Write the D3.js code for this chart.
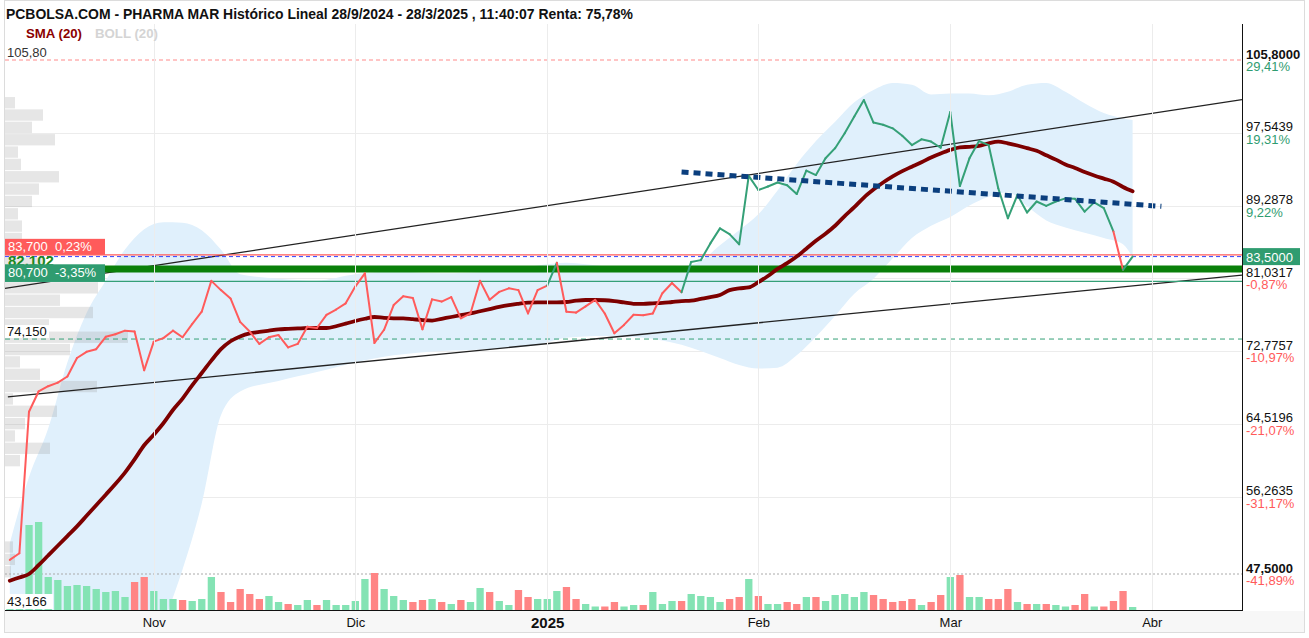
<!DOCTYPE html>
<html>
<head>
<meta charset="utf-8">
<script src="https://cdn.jsdelivr.net/npm/d3@7"></script>
<style>
body { margin: 0; background: #fff; }
svg { font-family: "Liberation Sans", Arial, sans-serif; }
</style>
</head>
<body>
<svg width="1309" height="638"></svg>
<script>
// daily closes, one per trading day from 11/10/2024 to 28/3/2025
var closes = [49.1, 49.85, 65.9, 68.2, 68.8, 69.2, 69.9, 72.0, 72.7, 73.0,
  74.4, 74.7, 75.1, 75.0, 70.6, 73.85, 74.25, 75.1, 74.35, 75.85,
  77.25, 80.75, 79.7, 78.75, 76.1, 75.0, 73.6, 74.35, 74.6, 73.2,
  73.6, 75.55, 75.4, 76.9, 77.5, 78.2, 80.1, 81.6, 73.7, 75.2,
  78.0, 79.0, 78.8, 75.25, 78.65, 78.4, 78.9, 76.5, 77.05, 80.75,
  78.6, 79.5, 79.9, 79.7, 77.05, 79.7, 80.2, 82.8, 77.25, 77.15,
  77.85, 78.6, 77.05, 74.8, 75.75, 76.9, 76.85, 77.05, 79.35, 80.5,
  79.45, 82.9, 83.1, 85.0, 86.7, 86.05, 84.9, 92.65, 91.05, 91.45,
  91.9, 91.6, 90.6, 93.25, 92.75, 94.65, 95.8, 97.5, 99.4, 101.25,
  98.7, 98.45, 98.05, 97.2, 96.15, 96.8, 96.55, 95.85, 99.9, 91.5,
  94.65, 96.6, 96.15, 91.25, 87.85, 90.5, 88.5, 89.75, 89.25, 89.75,
  90.1, 90.05, 88.6, 89.65, 89.0, 86.35, 82.0, 83.5];

// volume (thousands of shares)
var volumes = [60, 90, 850, 880, 330, 300, 240, 250, 240, 210,
  180, 190, 130, 280, 330, 190, 110, 110, 100, 90,
  110, 330, 180, 80, 210, 160, 110, 140, 80, 60,
  50, 100, 50, 100, 50, 50, 90, 310, 370, 210,
  140, 100, 80, 100, 110, 80, 60, 100, 80, 220,
  180, 90, 50, 200, 130, 110, 110, 190, 230, 110,
  60, 35, 35, 80, 35, 50, 50, 180, 60, 90,
  90, 160, 140, 130, 80, 110, 130, 310, 140, 60,
  60, 80, 60, 130, 130, 90, 150, 160, 130, 180,
  150, 110, 80, 90, 110, 50, 80, 150, 330, 350,
  130, 130, 110, 110, 210, 80, 60, 60, 60, 50,
  35, 50, 160, 35, 35, 90, 190, 30];

// SMA (20) as plotted
var sma20 = [46.74, 47.1, 47.5, 48.5, 49.6, 50.7, 51.8, 52.9, 54.1, 55.3,
  56.5, 57.7, 59.0, 60.5, 62.1, 63.3, 64.6, 66.1, 67.4, 68.9,
  70.3, 71.7, 73.0, 73.9, 74.45, 74.8, 74.95, 75.1, 75.25, 75.3,
  75.35, 75.4, 75.4, 75.4, 75.6, 75.9, 76.2, 76.45, 76.65, 76.55,
  76.5, 76.5, 76.4, 76.3, 76.25, 76.45, 76.65, 76.85, 77.05, 77.3,
  77.55, 77.8, 78.0, 78.15, 78.28, 78.3, 78.3, 78.3, 78.35, 78.5,
  78.58, 78.58, 78.55, 78.45, 78.3, 78.15, 78.15, 78.2, 78.25, 78.35,
  78.45, 78.5, 78.7, 78.9, 79.15, 79.7, 79.9, 80.0, 80.6, 81.3,
  82.1, 82.75, 83.5, 84.4, 85.3, 86.1, 87.0, 88.1, 89.1, 90.2,
  91.1, 91.9, 92.6, 93.2, 93.7, 94.2, 94.75, 95.2, 95.6, 95.9,
  95.95, 96.05, 96.35, 96.54, 96.35, 96.1, 95.8, 95.5, 95.0, 94.5,
  93.95, 93.55, 93.1, 92.7, 92.35, 92.0, 91.4, 90.9];

// Bollinger (20) envelope, read at these trading-day indexes
var bandDays = [0, 2, 4, 6, 8, 10, 12, 14, 16, 18, 20, 22, 24, 28, 32, 36, 40, 45, 50, 55,
  58, 62, 66, 70, 72, 74, 76, 78, 80, 82, 84, 86, 88, 90, 92, 94, 96, 98, 100, 102,
  104, 106, 108, 110, 112, 114, 116, 117];
var bandUpper = [51.0, 58.5, 64.0, 71.5, 77.1, 80.8, 84.3, 86.6, 87.4, 87.35, 86.5, 84.3, 81.5, 81.0, 80.8, 81.5, 81.8, 81.6, 81.8, 82.5,
  82.8, 82.4, 82.2, 82.4, 83.0, 84.8, 86.5, 88.3, 91.0, 94.0, 96.6, 98.8, 101.0, 102.4, 103.2, 103.0, 101.9, 102.0, 102.0, 101.8,
  102.2, 103.0, 103.2, 102.2, 100.9, 99.8, 99.2, 99.0];
var bandLower = [25, 26, 27, 28.5, 30, 32, 34.5, 37.5, 42.0, 48.0, 55.5, 65.5, 68.2, 69.4, 70.4, 71.5, 72.3, 72.8, 73.0, 73.5,
  74.3, 74.5, 74.3, 73.5, 72.8, 72.0, 71.2, 70.8, 70.9, 72.3, 74.4, 76.8, 79.3, 81.0, 83.3, 85.6, 87.0, 88.0, 89.3, 90.3,
  90.8, 89.2, 87.6, 86.8, 86.2, 85.6, 84.9, 83.4];

// volume-by-price profile (left), bins going down from profileTop
var profileTop = 101.6, profileStep = 1.4;
var profileVolumes = [10, 38, 27, 50, 13, 16, 54, 34, 27, 13, 17, 17, 22, 40, 60, 93, 55, 88, 44, 123,
  65, 15, 35, 92, 8, 52, 20, 10, 45, 15, 0, 0, 0, 0, 0, 0, 8, 10, 6];

// right axis
var axisValues = [105.8, 97.5439, 89.2878, 81.0317, 72.7757, 64.5196, 56.2635, 47.5];
var axisLabels = ["105,8000", "97,5439", "89,2878", "81,0317", "72,7757", "64,5196", "56,2635", "47,5000"];
var axisPercents = ["29,41%", "19,31%", "9,22%", "-0,87%", "-10,97%", "-21,07%", "-31,17%", "-41,89%"];

// reference levels
var maxLevel = 105.80, minLevel = 47.5, lowLabel = 43.166;
var redLevel = 83.700, redPct = "0,23%";
var lastPrice = 83.5;
var thickLevel = 82.102;
var greenLevel = 80.700, greenPct = "-3,35%";
var dashLevel = 74.150;

// trend lines (day index, price)
var upperTrendDays = [-0.5, 128.4], upperTrendValues = [79.9, 101.3];
var lowerTrendDays = [-0.2, 128.4], lowerTrendValues = [67.6, 81.4];
var dotTrendDays = [70, 120], dotTrendValues = [93.1, 89.2];

var holidays = ["2024-12-25", "2024-12-26", "2025-01-01"];
var monthNames = ["Ene", "Feb", "Mar", "Abr", "May", "Jun", "Jul", "Ago", "Sep", "Oct", "Nov", "Dic"];

var fmtDay = d3.utcFormat("%Y-%m-%d");
var days = d3.utcDay.range(new Date(Date.UTC(2024, 9, 11)), new Date(Date.UTC(2025, 3, 12)))
  .filter(function(d) { return d.getUTCDay() % 6 !== 0 && holidays.indexOf(fmtDay(d)) < 0; });
var monthStarts = d3.range(1, days.length).filter(function(i) {
  return days[i].getUTCMonth() !== days[i - 1].getUTCMonth();
});

var green = "#35a077", red = "#ff5b5b";

var svg = d3.select("svg");
var plotLeft = 5, plotRight = 1242, plotTop = 24, plotBottom = 610;

var x = d3.scaleLinear().domain([-0.5, 128.4]).range([plotLeft, plotRight]);
var y = d3.scaleLinear().domain([minLevel, maxLevel]).range([574, 60]);
var yVol = d3.scaleLinear().domain([0, 1000]).range([plotBottom, plotBottom - 100]);
var xProfile = d3.scaleLinear().domain([0, 130]).range([plotLeft, plotLeft + 130]);

svg.append("defs").append("clipPath").attr("id", "plot")
  .append("rect").attr("x", plotLeft).attr("y", plotTop)
  .attr("width", plotRight - plotLeft).attr("height", plotBottom - plotTop);

// frame
svg.append("rect").attr("x", 4.5).attr("y", 0.5).attr("width", 1300).attr("height", 632)
  .attr("fill", "#fff").attr("stroke", "#dcdcdc");

var g = svg.append("g").attr("clip-path", "url(#plot)");

// grid
g.selectAll(".hgrid").data(axisValues.slice(1, -1)).join("line")
  .attr("x1", plotLeft).attr("x2", plotRight)
  .attr("y1", function(d) { return Math.round(y(d)) + 0.5; })
  .attr("y2", function(d) { return Math.round(y(d)) + 0.5; })
  .attr("stroke", "#ececec");
svg.selectAll(".vgrid").data(monthStarts).join("line")
  .attr("x1", function(d) { return Math.round(x(d)) + 0.5; })
  .attr("x2", function(d) { return Math.round(x(d)) + 0.5; })
  .attr("y1", plotTop).attr("y2", plotBottom)
  .attr("stroke", "#ececec");

// bollinger band
var band = d3.area()
  .x(function(d, i) { return x(bandDays[i]); })
  .y0(function(d, i) { return y(bandLower[i]); })
  .y1(function(d, i) { return y(bandUpper[i]); })
  .curve(d3.curveMonotoneX);
g.append("path").datum(bandDays).attr("d", band).attr("fill", "#e0f0fc");

// volume profile
g.selectAll(".prof").data(profileVolumes).join("rect")
  .attr("x", plotLeft)
  .attr("y", function(d, k) { return y(profileTop - k * profileStep); })
  .attr("width", function(d) { return xProfile(d) - plotLeft; })
  .attr("height", function(d, k) { return y(profileTop - (k + 1) * profileStep) - y(profileTop - k * profileStep) - 1; })
  .attr("fill", "rgba(140,140,140,0.22)");

// level lines
g.append("line").attr("x1", plotLeft).attr("x2", plotRight).attr("y1", y(minLevel)).attr("y2", y(minLevel))
  .attr("stroke", "#aaa").attr("stroke-dasharray", "2,2");
g.append("line").attr("x1", plotLeft).attr("x2", plotRight).attr("y1", y(maxLevel)).attr("y2", y(maxLevel))
  .attr("stroke", "#ff8a8a").attr("stroke-dasharray", "4,3");
g.append("line").attr("x1", plotLeft).attr("x2", plotRight).attr("y1", y(dashLevel)).attr("y2", y(dashLevel))
  .attr("stroke", green).attr("stroke-dasharray", "5,4");

// volume bars
g.selectAll(".vol").data(volumes).join("rect")
  .attr("x", function(d, i) { return x(i) - 3.6; })
  .attr("width", 7.3)
  .attr("y", function(d) { return yVol(d); })
  .attr("height", function(d) { return plotBottom - yVol(d); })
  .attr("fill", function(d, i) { return i === 0 || closes[i] >= closes[i - 1] ? "#84e3b4" : "#ff8585"; });

// trend lines
var trend = d3.line().x(function(d) { return x(d[0]); }).y(function(d) { return y(d[1]); });
g.append("path").datum(d3.zip(upperTrendDays, upperTrendValues)).attr("d", trend)
  .attr("stroke", "#222").attr("stroke-width", 1.3).attr("fill", "none");
g.append("path").datum(d3.zip(lowerTrendDays, lowerTrendValues)).attr("d", trend)
  .attr("stroke", "#222").attr("stroke-width", 1.3).attr("fill", "none");

g.append("line").attr("x1", plotLeft).attr("x2", plotRight).attr("y1", y(greenLevel)).attr("y2", y(greenLevel))
  .attr("stroke", green).attr("stroke-width", 1.2);
g.append("line").attr("x1", plotLeft).attr("x2", plotRight).attr("y1", y(redLevel)).attr("y2", y(redLevel))
  .attr("stroke", red).attr("stroke-width", 1.2);
g.append("line").attr("x1", plotLeft).attr("x2", plotRight).attr("y1", y(lastPrice)).attr("y2", y(lastPrice))
  .attr("stroke", "#3344ff").attr("stroke-dasharray", "4,3");

svg.append("text").attr("x", 8).attr("y", 266).attr("font-size", 15).attr("font-weight", "bold")
  .attr("fill", "#1d8a1d").text("82,102");
g.append("line").attr("x1", plotLeft).attr("x2", plotRight).attr("y1", y(thickLevel)).attr("y2", y(thickLevel))
  .attr("stroke", "#0a800a").attr("stroke-width", 7);

// SMA
g.append("path").datum(sma20)
  .attr("d", d3.line().x(function(d, i) { return x(i); }).y(function(d) { return y(d); }).curve(d3.curveMonotoneX))
  .attr("fill", "none").attr("stroke", "#7d0000").attr("stroke-width", 3.8).attr("stroke-linecap", "round");

// price, coloured by the level of each segment's end
g.selectAll(".seg").data(d3.range(1, closes.length)).join("line")
  .attr("x1", function(i) { return x(i - 1); }).attr("y1", function(i) { return y(closes[i - 1]); })
  .attr("x2", function(i) { return x(i); }).attr("y2", function(i) { return y(closes[i]); })
  .attr("stroke", function(i) { return closes[i] >= thickLevel ? green : red; })
  .attr("stroke-width", 2).attr("stroke-linecap", "round");

// dotted trend
g.append("path").datum(d3.zip(dotTrendDays, dotTrendValues)).attr("d", trend)
  .attr("stroke", "#0b3f7e").attr("stroke-width", 5).attr("stroke-dasharray", "7,5").attr("fill", "none");

// left labels
var fmt3 = function(v) { return d3.format(".3f")(v).replace(".", ","); };
svg.append("text").attr("x", 7).attr("y", 57).attr("font-size", 13).attr("fill", "#333")
  .text(d3.format(".2f")(maxLevel).replace(".", ","));

svg.append("rect").attr("x", 5).attr("y", y(redLevel) - 16).attr("width", 100).attr("height", 16).attr("fill", red);
svg.append("text").attr("x", 8).attr("y", y(redLevel) - 3.5).attr("font-size", 13).attr("fill", "#fff")
  .attr("xml:space", "preserve").text(fmt3(redLevel) + "  " + redPct);

svg.append("rect").attr("x", 5).attr("y", y(greenLevel) - 17).attr("width", 100).attr("height", 17).attr("fill", "#2f9c70");
svg.append("text").attr("x", 8).attr("y", y(greenLevel) - 4).attr("font-size", 13).attr("fill", "#fff")
  .attr("xml:space", "preserve").text(fmt3(greenLevel) + "  " + greenPct);

svg.append("rect").attr("x", 5).attr("y", y(dashLevel) - 14).attr("width", 44).attr("height", 13).attr("fill", "#fff");
svg.append("text").attr("x", 7).attr("y", y(dashLevel) - 3).attr("font-size", 13).attr("fill", "#111").text(fmt3(dashLevel));

svg.append("rect").attr("x", 5).attr("y", 594).attr("width", 48).attr("height", 15).attr("fill", "#fff");
svg.append("text").attr("x", 7).attr("y", 606).attr("font-size", 13).attr("fill", "#111").text(fmt3(lowLabel));

// axes frame
svg.append("line").attr("x1", plotLeft).attr("x2", plotRight).attr("y1", plotBottom + 0.5).attr("y2", plotBottom + 0.5).attr("stroke", "#111");
svg.append("line").attr("x1", plotRight + 0.5).attr("x2", plotRight + 0.5).attr("y1", plotTop).attr("y2", plotBottom + 1).attr("stroke", "#111");
svg.append("rect").attr("x", 5).attr("y", 611).attr("width", 1299).attr("height", 21).attr("fill", "#f7f7f7");
svg.append("line").attr("x1", 1304.5).attr("x2", 1304.5).attr("y1", 0).attr("y2", 633).attr("stroke", "#dcdcdc");

// x axis
var xAxis = svg.append("g").attr("transform", "translate(0," + 614 + ")")
  .call(d3.axisBottom(x).tickValues(monthStarts).tickSize(0)
    .tickFormat(function(i) { var m = days[i].getUTCMonth(); return m === 0 ? days[i].getUTCFullYear() : monthNames[m]; }));
xAxis.select(".domain").remove();
xAxis.selectAll("text").attr("fill", "#111").attr("dy", "0.75em")
  .attr("font-family", "Liberation Sans, Arial, sans-serif")
  .attr("font-weight", function(i) { return days[i].getUTCMonth() === 0 ? "bold" : null; })
  .attr("font-size", function(i) { return days[i].getUTCMonth() === 0 ? 15 : 13; });

// right axis
var ra = svg.selectAll(".rlab").data(axisValues).join("g")
  .attr("transform", function(d) { return "translate(1246," + y(d) + ")"; });
ra.append("text").attr("y", -1.5).attr("font-size", 13).attr("fill", "#111")
  .attr("font-weight", function(d, i) { return i === 0 || i === axisValues.length - 1 ? "bold" : null; })
  .text(function(d, i) { return axisLabels[i]; });
ra.append("text").attr("y", 11).attr("font-size", 13)
  .attr("fill", function(d, i) { return axisPercents[i][0] === "-" ? "#ff5a5a" : "#2f9c70"; })
  .text(function(d, i) { return axisPercents[i]; });

svg.append("rect").attr("x", 1243).attr("y", y(lastPrice) - 8.5).attr("width", 57).attr("height", 17).attr("fill", "#2f9c70");
svg.append("text").attr("x", 1246).attr("y", y(lastPrice) + 5).attr("font-size", 13).attr("fill", "#fff")
  .text(d3.format(".4f")(lastPrice).replace(".", ","));

// title and legend
svg.append("text").attr("x", 6).attr("y", 19).attr("font-size", 14).attr("font-weight", "bold").attr("fill", "#111")
  .attr("textLength", 627).attr("lengthAdjust", "spacingAndGlyphs")
  .text("PCBOLSA.COM - PHARMA MAR Histórico Lineal 28/9/2024 - 28/3/2025 , 11:40:07 Renta: 75,78%");
svg.append("text").attr("x", 26).attr("y", 38).attr("font-size", 13).attr("font-weight", "bold").attr("fill", "#8b0000")
  .attr("textLength", 56).attr("lengthAdjust", "spacingAndGlyphs").text("SMA (20)");
svg.append("text").attr("x", 95).attr("y", 38).attr("font-size", 13).attr("font-weight", "bold").attr("fill", "#d4d4d4")
  .attr("textLength", 63).attr("lengthAdjust", "spacingAndGlyphs").text("BOLL (20)");
</script>
</body>
</html>
